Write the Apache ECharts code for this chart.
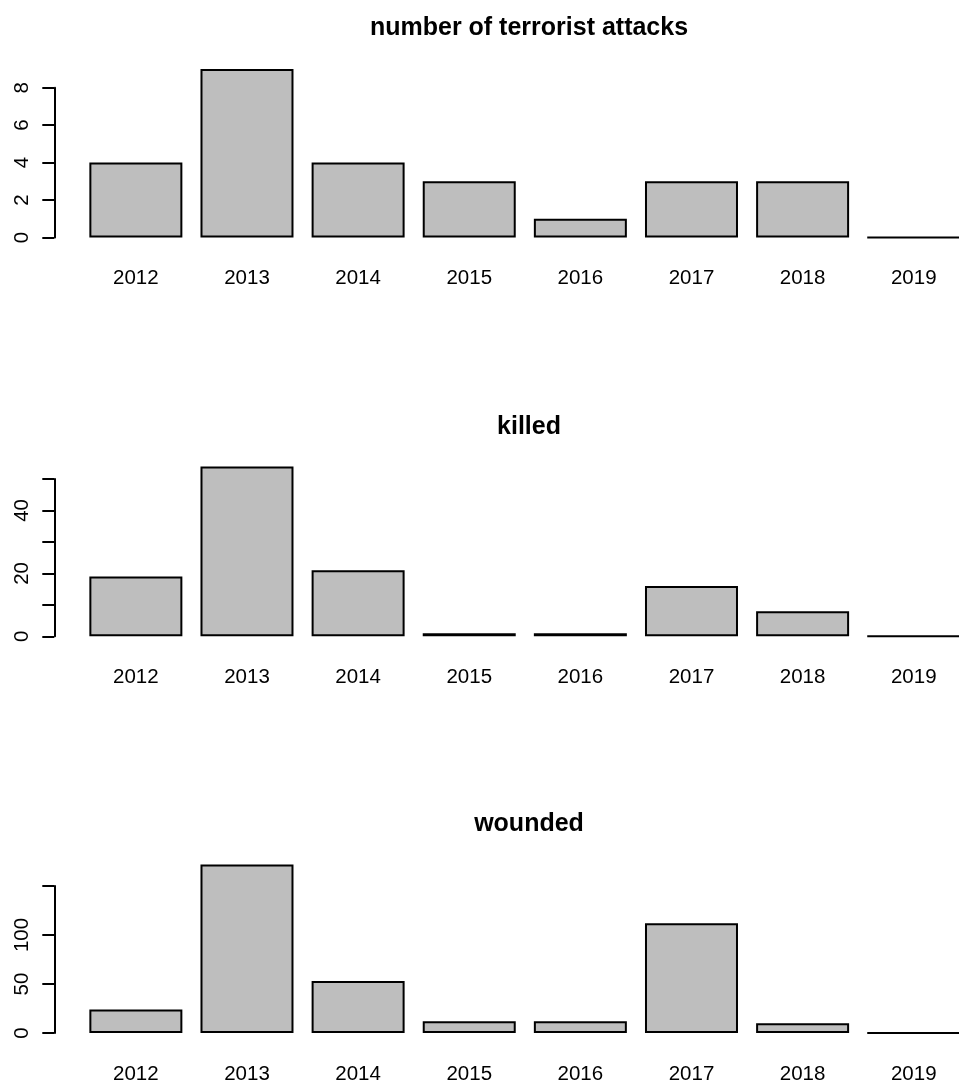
<!DOCTYPE html>
<html><head><meta charset="utf-8">
<script src="https://cdn.jsdelivr.net/npm/echarts@6/dist/echarts.min.js"></script>
<style>html,body{margin:0;padding:0;background:#fff}#c{width:959px;height:1088px}</style>
</head><body><div id="c"></div>
<script>
// ---- data ----
const years = ['2012','2013','2014','2015','2016','2017','2018','2019'];
const attacks = [4, 9, 4, 3, 1, 3, 3, 0];
const killed  = [19, 54, 21, 1, 1, 16, 8, 0];
const wounded = [24, 172, 53, 12, 12, 112, 10, 0];
const panelTitles = ['number of terrorist attacks', 'killed', 'wounded'];
const yTickMax = [8, 50, 150];
const yTickStep = [2, 10, 50];
const yTickLabels = [[0, 2, 4, 6, 8], [0, 20, 40], [0, 50, 100]];
const seriesData = [attacks, killed, wounded];

// ---- layout ----
const FONT = '"Liberation Sans", Arial, Helvetica, sans-serif';
const gridTop = [87.7, 479, 886];
const gridBottomY = [237.5, 636.3, 1033];
const titleCenterY = [23, 422, 819];
const gridLeft = 80.3, gridWidth = 889, axisX = 54.3;

const chart = echarts.init(document.getElementById('c'), null, {renderer: 'canvas'});
const grids = [], xAxes = [], yAxes = [], series = [], titles = [];
for (let i = 0; i < 3; i++) {
  grids.push({left: gridLeft, width: gridWidth, top: gridTop[i], height: gridBottomY[i] - gridTop[i],
              containLabel: false, outerBoundsMode: 'none'});
  xAxes.push({
    type: 'category', gridIndex: i, data: years,
    axisLine: {show: false}, axisTick: {show: false},
    axisLabel: {interval: 0, margin: 31, fontSize: 20.5, lineHeight: 20, color: '#000', fontFamily: FONT}
  });
  const shown = yTickLabels[i];
  yAxes.push({
    type: 'value', gridIndex: i, min: 0, max: yTickMax[i], interval: yTickStep[i],
    offset: gridLeft - axisX,
    splitLine: {show: false},
    axisLine: {show: true, lineStyle: {color: '#000', width: 2}},
    axisTick: {show: true, length: 12, lineStyle: {color: '#000', width: 2}},
    axisLabel: {
      rotate: 90, margin: 22, fontSize: 20.5, lineHeight: 20, color: '#000', fontFamily: FONT,
      formatter: v => shown.indexOf(v) >= 0 ? String(v) : ''
    }
  });
  series.push({
    type: 'bar', xAxisIndex: i, yAxisIndex: i, data: seriesData[i],
    barWidth: 93, clip: false, silent: true, animation: false,
    itemStyle: {color: '#BEBEBE', borderColor: '#000', borderWidth: 2}
  });
  titles.push({
    text: panelTitles[i], left: 524, top: titleCenterY[i] - 14, textAlign: 'center',
    textStyle: {fontFamily: FONT, fontWeight: 'bold', fontSize: 25, lineHeight: 28, color: '#000'}
  });
}
chart.setOption({
  animation: false,
  backgroundColor: '#fff',
  title: titles, grid: grids, xAxis: xAxes, yAxis: yAxes, series: series
});
</script>
</body></html>
